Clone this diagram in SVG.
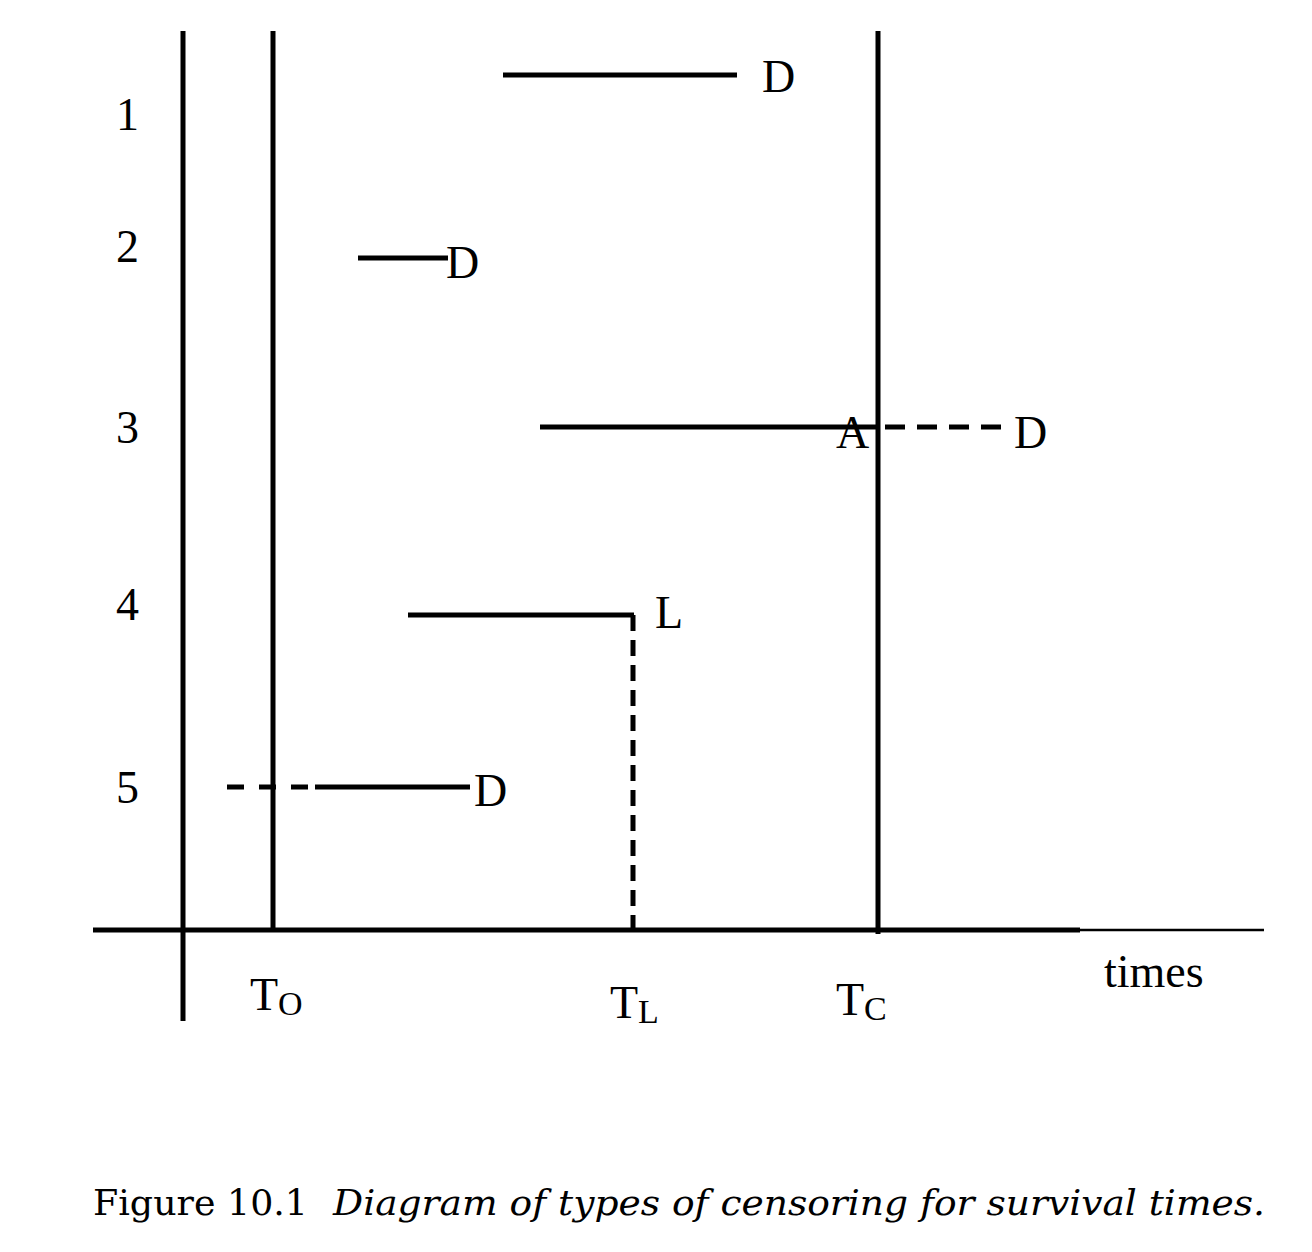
<svg xmlns="http://www.w3.org/2000/svg" width="1312" height="1252" viewBox="0 0 1312 1252">
<style>
.ln{stroke:#000;stroke-width:5;fill:none}
.ds{stroke:#000;stroke-width:5;fill:none}
text{font-family:"Liberation Serif","Times New Roman",Tinos,"Nimbus Roman",Times,serif;fill:#000}
.lb{font-size:46px}
.sb{font-size:34px}
.cap{font-family:"DejaVu Serif","Liberation Serif",serif;font-size:36px}
</style>
<rect width="1312" height="1252" fill="#fff"/>
<g id="axes">
<line class="ln" x1="183" y1="31" x2="183" y2="1021"/>
<line class="ln" x1="93" y1="930" x2="1080" y2="930"/>
<line x1="1080" y1="930" x2="1264" y2="930" stroke="#000" stroke-width="2.5"/>
<line class="ln" x1="273" y1="31" x2="273" y2="930"/>
<line class="ln" x1="878" y1="31" x2="878" y2="934"/>
</g>
<g id="row-labels">
<text class="lb" x="116" y="130">1</text>
<text class="lb" x="116" y="262">2</text>
<text class="lb" x="116" y="443">3</text>
<text class="lb" x="116" y="620">4</text>
<text class="lb" x="116" y="803">5</text>
</g>
<g id="connectors">
<line class="ln" x1="503" y1="75" x2="737" y2="75"/>
<line class="ln" x1="358" y1="258" x2="448" y2="258"/>
<line class="ln" x1="540" y1="427" x2="878" y2="427"/>
<line class="ds" x1="885" y1="427" x2="1003" y2="427" stroke-dasharray="20 12"/>
<line class="ln" x1="408" y1="615" x2="634" y2="615"/>
<line class="ds" x1="633" y1="615" x2="633" y2="930" stroke-dasharray="16 9"/>
<line class="ds" x1="227" y1="787" x2="315" y2="787" stroke-dasharray="17 15"/>
<line class="ln" x1="315" y1="787" x2="470" y2="787"/>
</g>
<g id="event-labels">
<text class="lb" x="762" y="92">D</text>
<text class="lb" x="446" y="278">D</text>
<text class="lb" x="836" y="448">A</text>
<text class="lb" x="1014" y="448">D</text>
<text class="lb" x="655" y="628">L</text>
<text class="lb" x="474" y="806">D</text>
</g>
<g id="time-labels">
<text class="lb" x="250" y="1010">T<tspan class="sb" dy="5">O</tspan></text>
<text class="lb" x="610" y="1018">T<tspan class="sb" dy="5">L</tspan></text>
<text class="lb" x="836" y="1015">T<tspan class="sb" dy="5">C</tspan></text>
<text class="lb" x="1104" y="987">times</text>
</g>
<g id="caption">
<text class="cap" x="93" y="1215" textLength="215" lengthAdjust="spacingAndGlyphs">Figure 10.1</text>
<text class="cap" x="333" y="1215" font-style="italic" textLength="932" lengthAdjust="spacingAndGlyphs">Diagram of types of censoring for survival times.</text>
</g>
</svg>
